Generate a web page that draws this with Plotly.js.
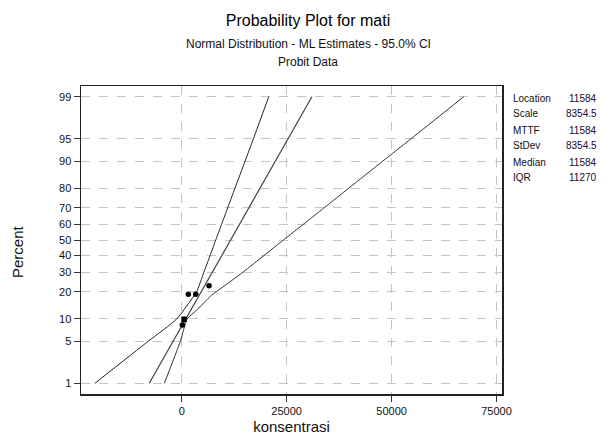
<!DOCTYPE html>
<html>
<head>
<meta charset="utf-8">
<script src="https://cdn.plot.ly/plotly-3.0.1.min.js"></script>
<style>html,body{margin:0;padding:0;background:#fff;}#chart{width:611px;height:435px;}</style>
</head>
<body>
<div id="chart"></div>
<script>
// ---- data ----
const percentTicks = [1, 5, 10, 20, 30, 40, 50, 60, 70, 80, 90, 95, 99];
const xTicks = [0, 25000, 50000, 75000];

const pointsX   = [143, 550, 1575, 3340, 6510];
const pointsPct = [8.4, 9.9, 18.9, 18.9, 22.9];
const pointSymbols = ["circle", "square", "circle", "circle", "circle"];

const fitX   = [-7730, 31010];
const fitPct = [1, 99];

const lowerX   = [-20700, -8000, -1200, 2200, 3550, 5270, 6750, 8110, 9490, 10970, 12690, 15100, 17080, 20730];
const lowerPct = [1, 5, 10, 16.5, 20, 30, 40, 50, 60, 70, 80, 90, 95, 99];

const upperX   = [-4150, -330, 1300, 3600, 6900, 8200, 14550, 19560, 24240, 28940, 33950, 39790, 47920, 54650, 67200];
const upperPct = [1, 5, 10, 12.8, 18.2, 20, 30, 40, 50, 60, 70, 80, 90, 95, 99];

const statLabels = ["Location", "Scale", "MTTF", "StDev", "Median", "IQR"];
const statValues = ["11584", "8354.5", "11584", "8354.5", "11584", "11270"];

// ---- probit scale (inverse normal CDF, Acklam) ----
function probit(p) {
  const a = [-3.969683028665376e+01, 2.209460984245205e+02, -2.759285104469687e+02, 1.383577518672690e+02, -3.066479806614716e+01, 2.506628277459239e+00];
  const b = [-5.447609879822406e+01, 1.615858368580409e+02, -1.556989798598866e+02, 6.680131188771972e+01, -1.328068155288572e+01];
  const c = [-7.784894002430293e-03, -3.223964580411365e-01, -2.400758277161838e+00, -2.549732539343734e+00, 4.374664141464968e+00, 2.938163982698783e+00];
  const d = [7.784695709041462e-03, 3.224671290700398e-01, 2.445134137142996e+00, 3.754408661907416e+00];
  const pl = 0.02425, ph = 1 - pl;
  let q, r;
  if (p < pl) {
    q = Math.sqrt(-2 * Math.log(p));
    return (((((c[0]*q+c[1])*q+c[2])*q+c[3])*q+c[4])*q+c[5]) / ((((d[0]*q+d[1])*q+d[2])*q+d[3])*q+1);
  } else if (p <= ph) {
    q = p - 0.5; r = q * q;
    return (((((a[0]*r+a[1])*r+a[2])*r+a[3])*r+a[4])*r+a[5])*q / (((((b[0]*r+b[1])*r+b[2])*r+b[3])*r+b[4])*r+1);
  } else {
    q = Math.sqrt(-2 * Math.log(1 - p));
    return -(((((c[0]*q+c[1])*q+c[2])*q+c[3])*q+c[4])*q+c[5]) / ((((d[0]*q+d[1])*q+d[2])*q+d[3])*q+1);
  }
}
const toZ = arr => arr.map(v => probit(v / 100));

const FONT = "Liberation Sans, Arial, sans-serif";

const traces = [
  { x: lowerX, y: toZ(lowerPct), mode: "lines", line: { color: "#222", width: 1, shape: "spline", smoothing: 0.6 }, hoverinfo: "skip" },
  { x: fitX, y: toZ(fitPct), mode: "lines", line: { color: "#444", width: 1.2 }, hoverinfo: "skip" },
  { x: upperX, y: toZ(upperPct), mode: "lines", line: { color: "#333", width: 1, shape: "spline", smoothing: 0.6 }, hoverinfo: "skip" },
  { x: pointsX, y: toZ(pointsPct), mode: "markers",
    marker: { color: "#000", size: 5.5, symbol: pointSymbols }, hoverinfo: "skip" }
];

// plot area in pixels
const L = 81, R = 502, T = 86, B = 394;
const W = 611, H = 435;
const px2x = px => (px - L) / (R - L);
const py2y = py => (B - py) / (B - T);

const statRowsY = [98, 113, 130, 145, 162, 177];
const annotations = [];
statLabels.forEach((s, i) => {
  annotations.push({ xref: "paper", yref: "paper", x: px2x(511), y: py2y(statRowsY[i]),
    xanchor: "left", yanchor: "middle", text: s, showarrow: false,
    font: { family: FONT, size: 10, color: "#111" } });
  annotations.push({ xref: "paper", yref: "paper", x: px2x(599), y: py2y(statRowsY[i]),
    xanchor: "right", yanchor: "middle", text: statValues[i], showarrow: false,
    font: { family: FONT, size: 10, color: "#1a0a2a" } });
});
annotations.push({ xref: "paper", yref: "paper", x: px2x(308), y: py2y(44),
  xanchor: "center", yanchor: "middle", text: "Normal Distribution - ML Estimates - 95.0% CI",
  showarrow: false, font: { family: FONT, size: 12, color: "#111" } });
annotations.push({ xref: "paper", yref: "paper", x: px2x(308), y: py2y(62),
  xanchor: "center", yanchor: "middle", text: "Probit Data",
  showarrow: false, font: { family: FONT, size: 12, color: "#111" } });
annotations.push({ xref: "paper", yref: "paper", x: px2x(17), y: py2y(252),
  xanchor: "center", yanchor: "middle", text: "Percent", textangle: -90,
  showarrow: false, font: { family: FONT, size: 15, color: "#111" } });

const layout = {
  width: W, height: H,
  margin: { l: L, r: W - R, t: T, b: H - B, pad: 0 },
  paper_bgcolor: "#fff", plot_bgcolor: "#fff",
  showlegend: false,
  font: { family: FONT, color: "#111" },
  title: { text: "Probability Plot for mati", x: 308 / W, xref: "container", xanchor: "center",
    y: 1 - 20 / H, yref: "container", yanchor: "middle",
    font: { family: FONT, size: 16, color: "#000" } },
  xaxis: {
    range: [-24000, 76300], tickvals: xTicks, ticktext: xTicks.map(String),
    showgrid: true, gridcolor: "#c4c4c4", griddash: "dash", gridwidth: 1,
    zeroline: false, showline: true, mirror: true, linecolor: "#222", linewidth: 1.5,
    ticks: "outside", ticklen: 6, tickcolor: "#333",
    tickfont: { family: FONT, size: 11, color: "#111" },
    title: { text: "konsentrasi", font: { family: FONT, size: 15, color: "#111" }, standoff: 8 }
  },
  yaxis: {
    range: [-2.5, 2.5], tickvals: toZ(percentTicks), ticktext: percentTicks.map(String),
    showgrid: true, gridcolor: "#c4c4c4", griddash: "dash", gridwidth: 1,
    zeroline: false, showline: true, mirror: true, linecolor: "#222", linewidth: 1.5,
    ticks: "outside", ticklen: 6, tickcolor: "#333",
    tickfont: { family: FONT, size: 11, color: "#111" }
  },
  annotations: annotations
};

Plotly.newPlot("chart", traces, layout, { staticPlot: true, displayModeBar: false });
</script>
</body>
</html>
